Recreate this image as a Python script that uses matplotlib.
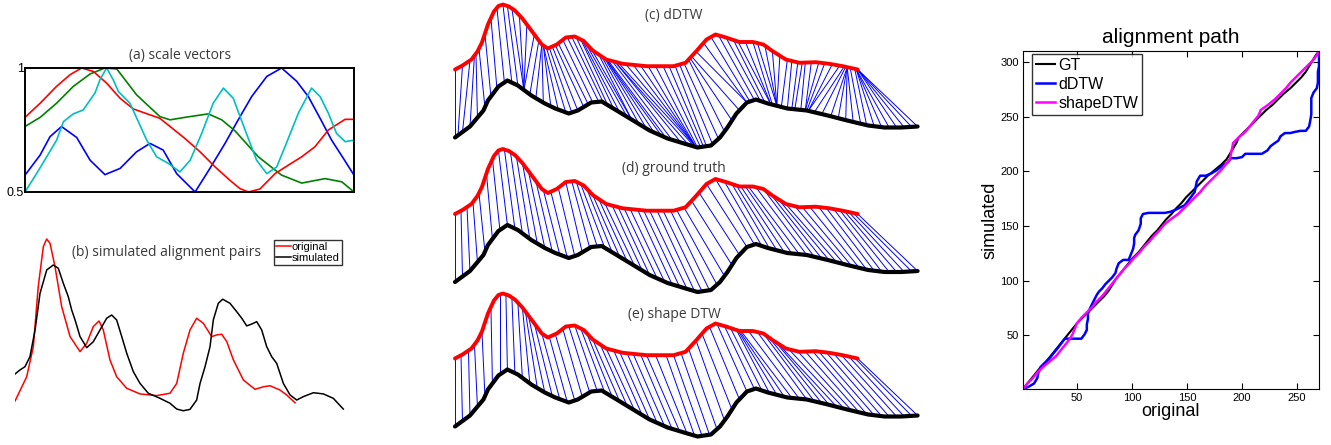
import numpy as np
import matplotlib
matplotlib.use("Agg")
import matplotlib.pyplot as plt
from matplotlib.collections import LineCollection

# (a) scale vectors, x in percent of the sequence
scale_x_red = [0, 4.6, 9.6, 13.7, 17.2, 20.8, 24.8, 28.9, 32.9, 41, 48.6, 53.2, 57.8, 62.3, 65.3,
               67.9, 71.4, 76, 80, 84.1, 88.1, 92.2, 97.3, 100]
scale_red = [0.801, 0.858, 0.926, 0.973, 1.0, 0.986, 0.939, 0.878, 0.835, 0.797, 0.716, 0.662, 0.601,
             0.547, 0.514, 0.5, 0.512, 0.574, 0.608, 0.642, 0.682, 0.75, 0.793, 0.793]
scale_x_green = [0, 4.6, 9.6, 14.7, 19.8, 24.3, 27.9, 33.9, 41, 44.1, 48.6, 55.7, 59.8, 63.8, 70.9,
                 78, 84.1, 91.2, 96.3, 100]
scale_green = [0.764, 0.801, 0.858, 0.926, 0.976, 1.0, 0.996, 0.892, 0.804, 0.791, 0.801, 0.815,
               0.791, 0.747, 0.642, 0.568, 0.536, 0.554, 0.541, 0.5]
scale_x_blue = [0, 4.6, 7.6, 11.1, 15.7, 19.8, 24.3, 28.9, 33.9, 38, 42, 46.1, 51.7, 56.2, 60.8,
                64.8, 68.9, 73.5, 78, 82.6, 86.1, 89.7, 93.2, 96.8, 100]
scale_blue = [0.568, 0.649, 0.723, 0.764, 0.72, 0.628, 0.57, 0.595, 0.662, 0.696, 0.669, 0.574, 0.5,
              0.595, 0.696, 0.791, 0.885, 0.966, 1.0, 0.946, 0.885, 0.797, 0.709, 0.635, 0.568]
scale_x_cyan = [0, 3.5, 6.6, 9.6, 11.7, 14.7, 17.7, 21.3, 22.8, 24.8, 26.8, 28.4, 31.9, 37, 40, 43.6,
                47.1, 50.2, 53.7, 57.2, 60.3, 63.3, 66.9, 70.4, 73.5, 76.5, 79, 83.1, 87.1, 89.7,
                92.2, 94.7, 97.3, 100]
scale_cyan = [0.5, 0.574, 0.642, 0.709, 0.784, 0.815, 0.831, 0.9, 0.953, 1.0, 0.953, 0.905, 0.858,
              0.709, 0.642, 0.615, 0.581, 0.628, 0.736, 0.858, 0.919, 0.878, 0.75, 0.628, 0.574,
              0.601, 0.682, 0.818, 0.919, 0.885, 0.818, 0.736, 0.703, 0.709]

# (b) simulated alignment pairs
b_orig_idx = [0, 11.0, 17.3, 21.9, 26.7, 29.8, 33.0, 37.7, 44.0, 51.9, 61.3, 67.6, 73.8, 79.2, 83.2,
              89.5, 95.8, 105.3, 117.8, 133.5, 146.1, 152.4, 158.6, 164.9, 171.2, 177.5, 185.4,
              190.1, 194.8, 199.6, 205.8, 215.2, 226.2, 234.1, 240.4, 249.7, 256.0, 263.9]
b_orig = [0.082, 0.225, 0.402, 0.755, 0.990, 1.035, 1.010, 0.873, 0.637, 0.461, 0.373, 0.422, 0.520,
          0.553, 0.5, 0.324, 0.225, 0.157, 0.124, 0.114, 0.128, 0.186, 0.363, 0.5, 0.569, 0.539,
          0.461, 0.471, 0.475, 0.431, 0.324, 0.206, 0.151, 0.166, 0.172, 0.147, 0.118, 0.072]
b_sim_idx = [0, 4.7, 9.4, 14.1, 18.9, 23.6, 29.9, 36.1, 40.8, 45.5, 50.2, 53.4, 56.6, 61.3, 67.6,
             73.8, 80.1, 86.4, 91.1, 95.8, 100.6, 105.3, 111.5, 117.8, 125.6, 136.7, 146.1, 152.4,
             158.6, 164.9, 171.2, 174.4, 179.1, 183.8, 186.9, 191.6, 195.7, 202.6, 208.9, 213.7,
             218.4, 223.1, 227.8, 232.5, 237.2, 241.9, 246.6, 252.9, 259.2, 265.5, 271.7, 281.2,
             290.6, 300, 309.4]
b_sim = [0.241, 0.265, 0.284, 0.343, 0.5, 0.716, 0.853, 0.882, 0.863, 0.775, 0.696, 0.618, 0.559,
         0.461, 0.396, 0.431, 0.5, 0.569, 0.588, 0.559, 0.461, 0.363, 0.255, 0.186, 0.128, 0.098,
         0.069, 0.035, 0.025, 0.033, 0.088, 0.186, 0.284, 0.402, 0.559, 0.657, 0.681, 0.657, 0.608,
         0.569, 0.524, 0.535, 0.549, 0.5, 0.402, 0.343, 0.304, 0.186, 0.118, 0.088, 0.108, 0.131,
         0.124, 0.098, 0.035]

# (c)-(e) sequences as drawn in the alignment panels
dtw_orig_idx = [0, 5, 11, 15, 18, 22, 26, 29, 32, 36, 40, 45, 49, 54, 58, 62, 68, 74, 80, 86, 92,
                101, 112, 128, 146, 154, 161, 168, 174, 181, 190, 199, 206, 212, 221, 230, 241,
                250, 259, 269]
dtw_orig = [0, 4, 10, 18, 27, 45, 58, 63.5, 65, 63, 59, 51, 43, 33, 25, 21, 25, 32, 33, 28.5, 19,
            10, 5.7, 3.3, 3.3, 6.7, 18, 30, 35, 32, 27.5, 27.5, 25, 18.5, 10, 6.7, 7.3, 5.7, 3.3, 0]
dtw_sim_idx = [0, 10, 19, 22, 29, 35, 42, 51, 60, 67, 76, 82, 91, 98, 108, 119, 130, 142, 153, 162,
               171, 177, 182, 188, 195, 201, 209, 222, 235, 249, 262, 276, 287, 298, 309]
dtw_sim = [0, 11, 27, 37, 51, 57, 52, 42, 34, 29, 24, 27, 35, 36, 27, 17, 7, -1, -6, -10, -8, 0, 10,
           24, 35, 38, 34, 29, 27, 22, 17, 12, 10, 10, 11]

# alignment pairs (original index, simulated index)
gt_orig = [0, 4, 8, 12, 16, 21, 25, 29, 33, 37, 41, 45, 49, 54, 59, 64, 69, 74, 78, 81, 84, 88, 92,
           96, 100, 105, 109, 113, 117, 122, 126, 130, 135, 139, 144, 148, 153, 158, 163, 168, 174,
           180, 185, 188, 191, 194, 196, 201, 206, 211, 216, 221, 227, 232, 237, 243, 248, 253,
           257, 260, 263, 266, 269]
gt_sim = [0, 5, 10, 15, 20, 25, 30, 35, 40, 45, 50, 55, 60, 65, 70, 75, 80, 85, 90, 95, 100, 105,
          110, 115, 120, 125, 130, 135, 140, 145, 150, 155, 160, 165, 170, 175, 180, 185, 190, 195,
          200, 205, 210, 215, 220, 225, 230, 235, 240, 245, 250, 255, 260, 265, 270, 275, 280, 285,
          290, 295, 300, 305, 309]
dd_orig = [0, 5, 10, 13, 14, 16, 20, 24, 28, 32, 35, 38, 43, 48, 53, 56, 58, 58, 59, 59, 61, 63, 65,
           67, 69, 72, 75, 78, 81, 84, 85, 87, 91, 96, 98, 100, 101, 101, 102, 105, 107, 107, 109,
           114, 119, 124, 129, 134, 139, 143, 147, 150, 153, 156, 157, 158, 161, 166, 171, 176, 181,
           186, 189, 194, 199, 202, 207, 212, 217, 222, 225, 229, 232, 234, 238, 243, 247, 252, 257,
           260, 261, 262, 262, 262, 262, 264, 267, 268, 268, 268, 269, 269, 269, 269]
dd_sim = [0, 2, 5, 10, 15, 20, 24, 28, 33, 38, 42, 46, 46, 46, 46, 50, 54, 59, 64, 69, 74, 78, 82,
          86, 89, 92, 96, 99, 102, 106, 110, 115, 118, 118, 123, 128, 133, 138, 141, 145, 151, 156,
          160, 161, 161, 161, 161, 162, 164, 166, 168, 172, 176, 180, 185, 190, 195, 195, 197, 200,
          204, 207, 211, 211, 212, 215, 215, 215, 215, 218, 222, 225, 227, 231, 234, 234, 235, 236,
          236, 240, 245, 251, 256, 261, 266, 271, 275, 280, 285, 290, 295, 300, 305, 309]
sd_orig = [0, 4, 9, 13, 18, 24, 30, 34, 38, 42, 45, 47, 49, 53, 58, 63, 67, 72, 76, 80, 84, 88, 92,
           97, 101, 106, 110, 115, 119, 124, 128, 134, 141, 146, 151, 156, 161, 165, 170, 175, 180,
           184, 188, 189, 190, 191, 196, 202, 206, 210, 214, 216, 223, 229, 234, 239, 243, 248,
           253, 258, 263, 267, 269]
sd_sim = gt_sim

W, H = 1331, 445
fig = plt.figure(figsize=(W / 100, H / 100), dpi=100)
title_font = dict(family="Open Sans", fontsize=10, color="#3a3a3a", ha="center", va="center")


def px_axes(x0, y0, x1, y1):
    # axes placed by a pixel box measured from the top-left corner
    return fig.add_axes([x0 / W, 1 - y1 / H, (x1 - x0) / W, (y1 - y0) / H])


# (a) scale vectors
ax = px_axes(25, 68, 354, 192)
ax.plot(scale_x_blue, scale_blue, color="#0000ff", lw=1.2)
ax.plot(scale_x_green, scale_green, color="#008000", lw=1.2)
ax.plot(scale_x_red, scale_red, color="#ff0000", lw=1.2)
ax.plot(scale_x_cyan, scale_cyan, color="#00bfbf", lw=1.2)
ax.set_xlim(0, 100)
ax.set_ylim(0.5, 1)
ax.set_xticks([])
ax.set_yticks([0.5, 1])
ax.set_yticklabels(["0.5", "1"], family="Liberation Sans", fontsize=9)
ax.tick_params(length=0, pad=1)
for sp in ax.spines.values():
    sp.set_linewidth(1.4)
fig.text(180 / W, 1 - 55 / H, "(a) scale vectors", **title_font)

# (b) simulated alignment pairs
ax = px_axes(15, 230, 345, 415)
ax.plot(b_orig_idx, b_orig, color="#ff0000", lw=1.1, label="original")
ax.plot(b_sim_idx, b_sim, color="black", lw=1.1, label="simulated")
ax.set_xlim(0, 311)
ax.set_ylim(0, 1.088)
ax.axis("off")
leg = ax.legend(loc="upper right", bbox_to_anchor=(342 / W, 1 - 240 / H),
                bbox_transform=fig.transFigure, borderaxespad=0, fancybox=False,
                prop={"family": "Liberation Sans", "size": 8}, handlelength=1.3,
                handletextpad=0.1, borderpad=0.2, labelspacing=0.05)
leg.get_frame().set_edgecolor("black")
leg.get_frame().set_linewidth(1.0)
fig.text(166 / W, 1 - 252 / H, "(b) simulated alignment pairs", **title_font)

# (c)-(e) alignment between the two sequences
RED_SHIFT = 80.5
BLACK_SHIFT = 12.5
panels = [(0, dd_orig, dd_sim, "(c) dDTW", 15),
          (144.5, gt_orig, gt_sim, "(d) ground truth", 169),
          (289, sd_orig, sd_sim, "(e) shape DTW", 314)]
for top, p_orig, p_sim, title, ty in panels:
    ax = px_axes(440, top, 930, top + 150)
    ax.set_xlim(-10.02, 317.3)
    ax.set_ylim(0, 150)
    ax.axis("off")
    ry = np.interp(p_orig, dtw_orig_idx, dtw_orig) + RED_SHIFT
    by = np.interp(p_sim, dtw_sim_idx, dtw_sim) + BLACK_SHIFT
    segs = [[(i, a), (j, b)] for i, a, j, b in zip(p_orig, ry, p_sim, by)]
    ax.add_collection(LineCollection(segs, colors="#0000ff", linewidths=0.7, zorder=1))
    ax.plot(dtw_orig_idx, np.array(dtw_orig) + RED_SHIFT, color="#ff0000", lw=2.8,
            solid_capstyle="round", zorder=3, clip_on=False)
    ax.plot(dtw_sim_idx, np.array(dtw_sim) + BLACK_SHIFT, color="black", lw=3.0,
            solid_capstyle="round", zorder=3, clip_on=False)
    fig.text(674 / W, 1 - ty / H, title, **title_font)

# alignment path
ax = px_axes(1023, 51, 1319, 389)
ax.plot(np.array(gt_orig) + 1, np.array(gt_sim) + 1, color="black", lw=1.5, label="GT")
ax.plot(np.array(dd_orig) + 1, np.array(dd_sim) + 1, color="#0000ff", lw=1.8, label="dDTW")
ax.plot(np.array(sd_orig) + 1, np.array(sd_sim) + 1, color="#ff00ff", lw=1.8, label="shapeDTW")
ax.set_xlim(1, 270)
ax.set_ylim(1, 310)
ax.set_xticks([50, 100, 150, 200, 250])
ax.set_yticks([50, 100, 150, 200, 250, 300])
ax.tick_params(direction="in", top=True, right=True, length=4, labelsize=8, pad=3)
for lab in ax.get_xticklabels() + ax.get_yticklabels():
    lab.set_family("Liberation Sans")
ax.set_title("alignment path", family="Liberation Sans", fontsize=15, pad=6)
ax.set_xlabel("original", family="Liberation Sans", fontsize=13, labelpad=0)
ax.set_ylabel("simulated", family="Liberation Sans", fontsize=13, labelpad=1)
leg = ax.legend(loc="upper left", bbox_to_anchor=(0.03, 0.992), borderaxespad=0, fancybox=False,
                prop={"family": "Liberation Sans", "size": 11.5}, handlelength=1.2,
                handletextpad=0.2, borderpad=0.25, labelspacing=0.25)
leg.get_frame().set_edgecolor("black")
leg.get_frame().set_linewidth(1.0)

fig.savefig("out.png", dpi=100)
